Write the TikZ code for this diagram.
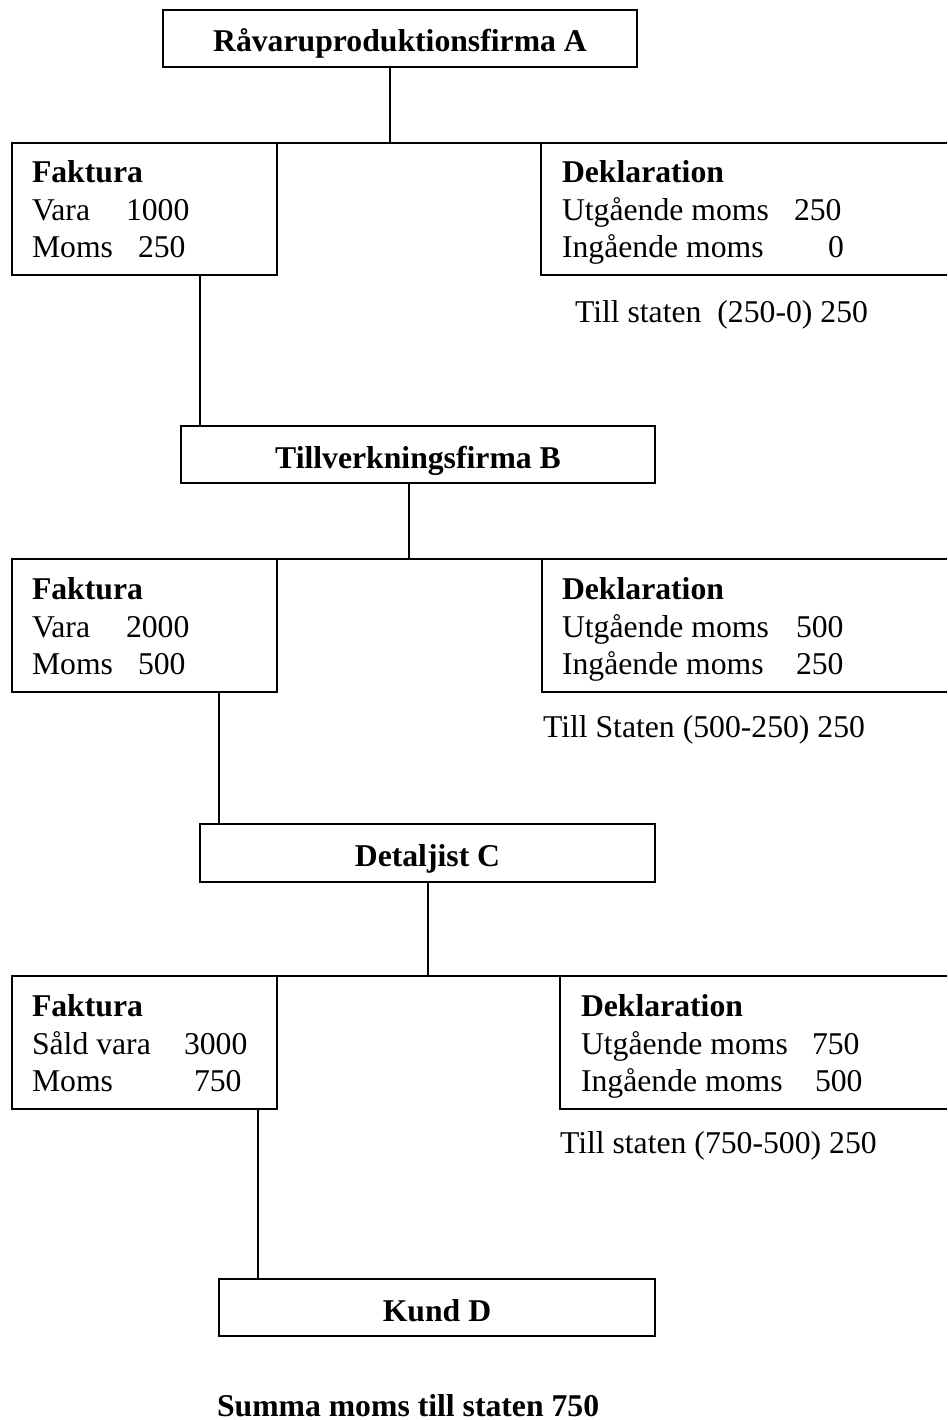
\documentclass[tikz,border=0pt]{standalone}
\usepackage{fontspec}
\setmainfont{Liberation Serif}
\newcommand\txsize{\fontsize{31.7}{37}\selectfont}
\begin{document}
\begin{tikzpicture}[x=1pt,y=-1pt,
  box/.style={draw, line width=2pt, rectangle, inner sep=0pt, outer sep=0pt},
  openbox/.style={rectangle, inner sep=0pt, outer sep=0pt},
  title/.style={box, font=\bfseries\txsize, text height=27pt, text depth=0pt},
  txt/.style={anchor=base west, inner sep=0pt, outer sep=0pt, font=\txsize},
  hd/.style={txt, font=\bfseries\txsize},
  conn/.style={line width=1.5pt},
  edgeline/.style={line width=2pt}]
\useasboundingbox (0,0) rectangle (947,1420);

% firm boxes
\node[title, minimum width=474pt, minimum height=57pt] (A) at (400,38.5) {Råvaruproduktionsfirma A};
\node[title, minimum width=474pt, minimum height=57pt] (B) at (418,454.5) {Tillverkningsfirma B};
\node[title, minimum width=455pt, minimum height=58pt] (C) at (427.5,853) {Detaljist C};
\node[title, minimum width=436pt, minimum height=57pt] (D) at (437,1307.5) {Kund D};

% Faktura boxes
\node[box, minimum width=265pt, minimum height=132pt] (F1) at (144.5,209) {};
\node[box, minimum width=265pt, minimum height=133pt] (F2) at (144.5,625.5) {};
\node[box, minimum width=265pt, minimum height=133pt] (F3) at (144.5,1042.5) {};

% Deklaration boxes (open at the right edge of the page)
\node[openbox, minimum width=406pt, minimum height=132pt] (K1) at (744,209) {};
\node[openbox, minimum width=405pt, minimum height=133pt] (K2) at (744.5,625.5) {};
\node[openbox, minimum width=387pt, minimum height=133pt] (K3) at (753.5,1042.5) {};
\foreach \k in {K1,K2,K3}
  \draw[edgeline] (\k.north east) -- (\k.north west) -- (\k.south west) -- (\k.south east);

% connector x positions
\coordinate (xA) at (390,0);
\coordinate (xAB) at (200,0);
\coordinate (xB) at (409,0);
\coordinate (xBC) at (219,0);
\coordinate (xC) at (428,0);
\coordinate (xCD) at (258,0);

\draw[conn] (A.south -| xA) -- (F1.north -| xA);
\draw[edgeline] (F1.north east) -- (K1.north west);
\draw[conn] (F1.south -| xAB) -- (B.north -| xAB);
\draw[conn] (B.south -| xB) -- (F2.north -| xB);
\draw[edgeline] (F2.north east) -- (K2.north west);
\draw[conn] (F2.south -| xBC) -- (C.north -| xBC);
\draw[conn] (C.south -| xC) -- (F3.north -| xC);
\draw[edgeline] (F3.north east) -- (K3.north west);
\draw[conn] (F3.south -| xCD) -- (D.north -| xCD);

% Row 1 texts
\node[hd]  (f1h) at (32,183) {Faktura};
\node[txt] (f1a) at (32,221) {Vara};
\node[txt] (f1an) at (126,221) {1000};
\node[txt] (f1b) at (32,258) {Moms};
\node[txt] (f1bn) at (138,258) {250};
\node[hd]  (k1h) at (562,183) {Deklaration};
\node[txt] (k1a) at (562,221) {Utgående moms};
\node[txt] (k1an) at (794,221) {250};
\node[txt] (k1b) at (562,258) {Ingående moms};
\node[txt] (k1bn) at (828,258) {0};
\node[txt] (s1) at (575,322) {Till staten\ \ (250-0) 250};

% Row 2 texts
\node[hd]  (f2h) at (32,599) {Faktura};
\node[txt] (f2a) at (32,637) {Vara};
\node[txt] (f2an) at (126,637) {2000};
\node[txt] (f2b) at (32,674) {Moms};
\node[txt] (f2bn) at (138,674) {500};
\node[hd]  (k2h) at (562,599) {Deklaration};
\node[txt] (k2a) at (562,637) {Utgående moms};
\node[txt] (k2an) at (796,637) {500};
\node[txt] (k2b) at (562,674) {Ingående moms};
\node[txt] (k2bn) at (796,674) {250};
\node[txt] (s2) at (543,737) {Till Staten (500-250) 250};

% Row 3 texts
\node[hd]  (f3h) at (32,1016) {Faktura};
\node[txt] (f3a) at (32,1054) {Såld vara};
\node[txt] (f3an) at (184,1054) {3000};
\node[txt] (f3b) at (32,1091) {Moms};
\node[txt] (f3bn) at (194,1091) {750};
\node[hd]  (k3h) at (581,1016) {Deklaration};
\node[txt] (k3a) at (581,1054) {Utgående moms};
\node[txt] (k3an) at (812,1054) {750};
\node[txt] (k3b) at (581,1091) {Ingående moms};
\node[txt] (k3bn) at (815,1091) {500};
\node[txt] (s3) at (560,1153) {Till staten (750-500) 250};

% Total
\node[hd] (sum) at (217,1416) {Summa moms till staten 750};
\end{tikzpicture}
\end{document}
